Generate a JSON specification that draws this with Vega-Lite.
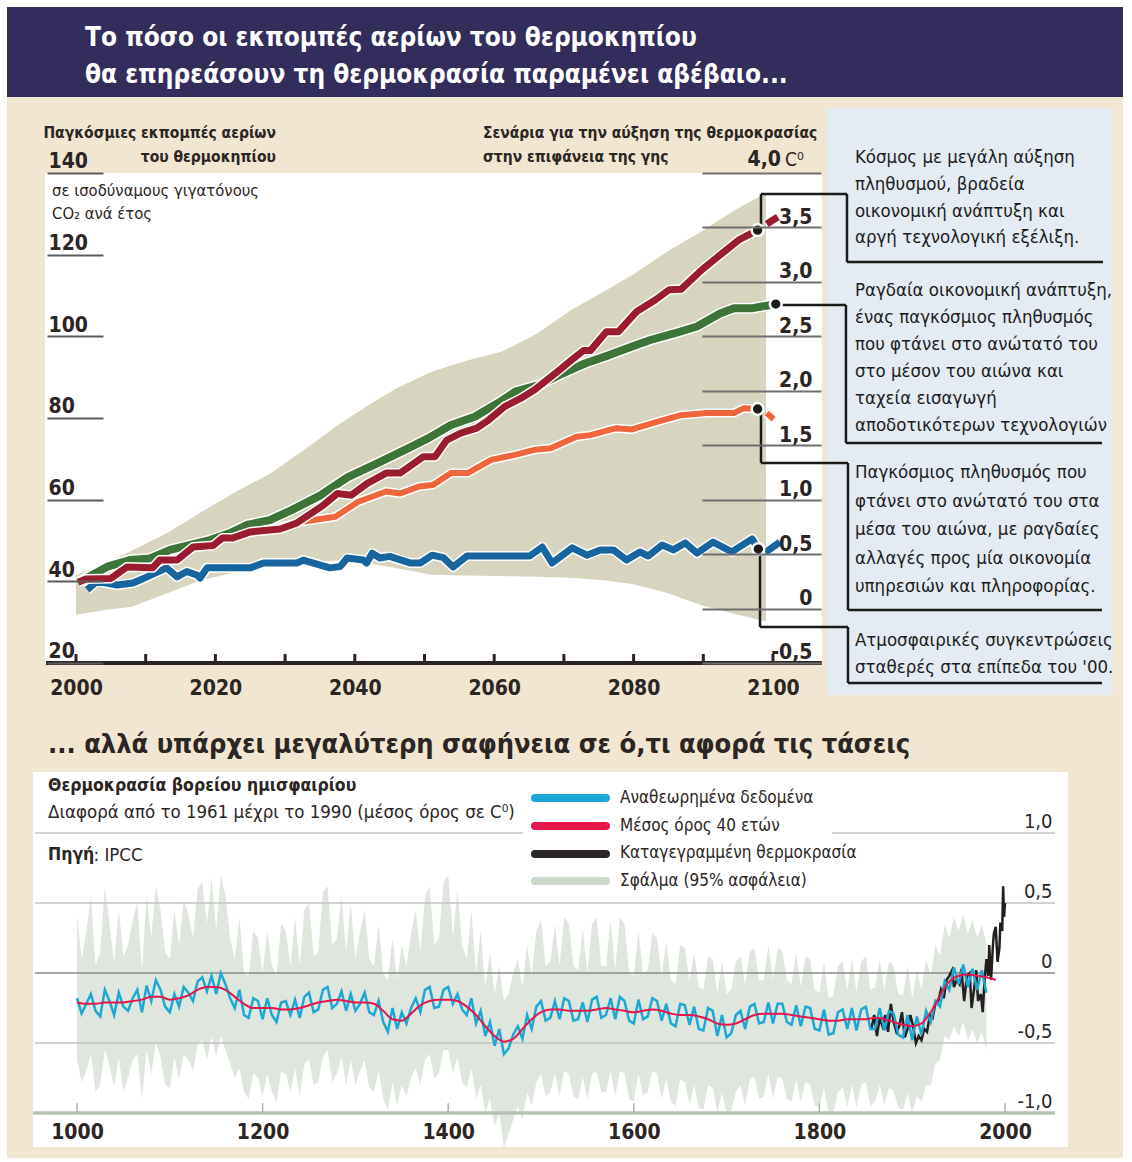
{
"$schema": "https://vega.github.io/schema/vega-lite/v6.json",
"background": "#ffffff",
"padding": {"left": 7, "top": 7, "right": 9, "bottom": 4},
"spacing": 0,
"config": {"view": {"stroke": null}, "font": "DejaVu Sans Condensed, DejaVu Sans, sans-serif", "concat": {"spacing": 0}},
"datasets": {
"series": [
{"scenario":"C","seg":"C1","year":2001.6,"value":37.9},{"scenario":"C","seg":"C1","year":2003,"value":40},{"scenario":"C","seg":"C1","year":2005.9,"value":39.1},{"scenario":"C","seg":"C1","year":2008.2,"value":39.6},{"scenario":"C","seg":"C1","year":2010.2,"value":41.1},{"scenario":"C","seg":"C1","year":2013,"value":43.3},{"scenario":"C","seg":"C1","year":2014.5,"value":41.1},{"scenario":"C","seg":"C1","year":2015.9,"value":42.4},{"scenario":"C","seg":"C1","year":2017.4,"value":41.5},{"scenario":"C","seg":"C1","year":2017.8,"value":40.8},{"scenario":"C","seg":"C1","year":2018.8,"value":43.3},{"scenario":"C","seg":"C1","year":2025,"value":43.3},{"scenario":"C","seg":"C1","year":2026.9,"value":44.5},{"scenario":"C","seg":"C1","year":2031.7,"value":44.5},{"scenario":"C","seg":"C1","year":2032.6,"value":45.2},{"scenario":"C","seg":"C1","year":2036.4,"value":43.3},{"scenario":"C","seg":"C1","year":2037.9,"value":43.6},{"scenario":"C","seg":"C1","year":2038.9,"value":45.7},{"scenario":"C","seg":"C1","year":2041.2,"value":45.2},{"scenario":"C","seg":"C1","year":2041.7,"value":44.5},{"scenario":"C","seg":"C1","year":2042.5,"value":46.9},{"scenario":"C","seg":"C1","year":2043.6,"value":45.7},{"scenario":"C","seg":"C1","year":2045,"value":46.1},{"scenario":"C","seg":"C1","year":2047.9,"value":44.5},{"scenario":"C","seg":"C1","year":2049.4,"value":44.5},{"scenario":"C","seg":"C1","year":2051.1,"value":46.4},{"scenario":"C","seg":"C1","year":2052.7,"value":45.8},{"scenario":"C","seg":"C1","year":2054.1,"value":43.5},{"scenario":"C","seg":"C1","year":2056.1,"value":46.2},{"scenario":"C","seg":"C1","year":2065.1,"value":46.2},{"scenario":"C","seg":"C1","year":2066.9,"value":48.4},{"scenario":"C","seg":"C1","year":2068.3,"value":44.5},{"scenario":"C","seg":"C1","year":2071.2,"value":48.2},{"scenario":"C","seg":"C1","year":2073.3,"value":46.4},{"scenario":"C","seg":"C1","year":2075.2,"value":47.7},{"scenario":"C","seg":"C1","year":2077.1,"value":47.7},{"scenario":"C","seg":"C1","year":2079,"value":45.2},{"scenario":"C","seg":"C1","year":2080.9,"value":47.2},{"scenario":"C","seg":"C1","year":2082.1,"value":46.2},{"scenario":"C","seg":"C1","year":2084.1,"value":48.9},{"scenario":"C","seg":"C1","year":2085.7,"value":47.7},{"scenario":"C","seg":"C1","year":2087.4,"value":49.4},{"scenario":"C","seg":"C1","year":2089.1,"value":46.9},{"scenario":"C","seg":"C1","year":2091.4,"value":49.6},{"scenario":"C","seg":"C1","year":2094.1,"value":47.2},{"scenario":"C","seg":"C1","year":2097,"value":50.4},{"scenario":"C","seg":"C1","year":2097.8,"value":48.2},
{"scenario":"C","seg":"C2","year":2098.9,"value":47.1},{"scenario":"C","seg":"C2","year":2101,"value":49.6},
{"scenario":"B1","seg":"B11","year":2028,"value":52.8},{"scenario":"B1","seg":"B11","year":2032.5,"value":54.6},{"scenario":"B1","seg":"B11","year":2037.2,"value":55.8},{"scenario":"B1","seg":"B11","year":2040.5,"value":59.5},{"scenario":"B1","seg":"B11","year":2044.5,"value":62},{"scenario":"B1","seg":"B11","year":2046.5,"value":61.5},{"scenario":"B1","seg":"B11","year":2049.2,"value":63.2},{"scenario":"B1","seg":"B11","year":2051.2,"value":63.6},{"scenario":"B1","seg":"B11","year":2053.8,"value":66.5},{"scenario":"B1","seg":"B11","year":2056.2,"value":66.5},{"scenario":"B1","seg":"B11","year":2059.5,"value":69.7},{"scenario":"B1","seg":"B11","year":2062.8,"value":70.9},{"scenario":"B1","seg":"B11","year":2065.8,"value":72.2},{"scenario":"B1","seg":"B11","year":2068.1,"value":72.6},{"scenario":"B1","seg":"B11","year":2071.8,"value":75.4},{"scenario":"B1","seg":"B11","year":2073.8,"value":75.8},{"scenario":"B1","seg":"B11","year":2077.5,"value":77.5},{"scenario":"B1","seg":"B11","year":2079.8,"value":77.2},{"scenario":"B1","seg":"B11","year":2083.1,"value":78.9},{"scenario":"B1","seg":"B11","year":2086.8,"value":80.7},{"scenario":"B1","seg":"B11","year":2090.5,"value":81.2},{"scenario":"B1","seg":"B11","year":2094.4,"value":81.2},{"scenario":"B1","seg":"B11","year":2095.8,"value":82.4},{"scenario":"B1","seg":"B11","year":2097.8,"value":82.2},
{"scenario":"B1","seg":"B12","year":2099.1,"value":81.2},{"scenario":"B1","seg":"B12","year":2100.1,"value":79.7},
{"scenario":"A1B","seg":"A1B1","year":2000.5,"value":40},{"scenario":"A1B","seg":"A1B1","year":2001,"value":40.3},{"scenario":"A1B","seg":"A1B1","year":2004.5,"value":43.6},{"scenario":"A1B","seg":"A1B1","year":2007.7,"value":45.2},{"scenario":"A1B","seg":"A1B1","year":2010.6,"value":45.6},{"scenario":"A1B","seg":"A1B1","year":2013.5,"value":47.7},{"scenario":"A1B","seg":"A1B1","year":2016.4,"value":48.9},{"scenario":"A1B","seg":"A1B1","year":2019.2,"value":50.1},{"scenario":"A1B","seg":"A1B1","year":2022.1,"value":51.8},{"scenario":"A1B","seg":"A1B1","year":2024.5,"value":53.8},{"scenario":"A1B","seg":"A1B1","year":2027.8,"value":55},{"scenario":"A1B","seg":"A1B1","year":2031,"value":57.5},{"scenario":"A1B","seg":"A1B1","year":2035,"value":61},{"scenario":"A1B","seg":"A1B1","year":2039,"value":65.5},{"scenario":"A1B","seg":"A1B1","year":2043.2,"value":68.9},{"scenario":"A1B","seg":"A1B1","year":2047.2,"value":72.2},{"scenario":"A1B","seg":"A1B1","year":2050.5,"value":75},{"scenario":"A1B","seg":"A1B1","year":2053.8,"value":78.3},{"scenario":"A1B","seg":"A1B1","year":2057.2,"value":80.3},{"scenario":"A1B","seg":"A1B1","year":2060.5,"value":83.6},{"scenario":"A1B","seg":"A1B1","year":2063.1,"value":86.5},{"scenario":"A1B","seg":"A1B1","year":2066.5,"value":88.1},{"scenario":"A1B","seg":"A1B1","year":2069.8,"value":90.9},{"scenario":"A1B","seg":"A1B1","year":2073.1,"value":93.4},{"scenario":"A1B","seg":"A1B1","year":2076.5,"value":95.4},{"scenario":"A1B","seg":"A1B1","year":2079.8,"value":97.5},{"scenario":"A1B","seg":"A1B1","year":2082.4,"value":99.1},{"scenario":"A1B","seg":"A1B1","year":2085.8,"value":100.7},{"scenario":"A1B","seg":"A1B1","year":2089.1,"value":102.4},{"scenario":"A1B","seg":"A1B1","year":2092.4,"value":105.6},{"scenario":"A1B","seg":"A1B1","year":2094.4,"value":106.9},{"scenario":"A1B","seg":"A1B1","year":2097.1,"value":106.9},{"scenario":"A1B","seg":"A1B1","year":2100.4,"value":107.9},
{"scenario":"A2","seg":"A21","year":2000.3,"value":39.8},{"scenario":"A2","seg":"A21","year":2001.5,"value":40.6},{"scenario":"A2","seg":"A21","year":2005,"value":40.7},{"scenario":"A2","seg":"A21","year":2007.3,"value":43.5},{"scenario":"A2","seg":"A21","year":2011,"value":43.3},{"scenario":"A2","seg":"A21","year":2012,"value":45.2},{"scenario":"A2","seg":"A21","year":2014.5,"value":45.2},{"scenario":"A2","seg":"A21","year":2016.8,"value":48.4},{"scenario":"A2","seg":"A21","year":2019.7,"value":48.8},{"scenario":"A2","seg":"A21","year":2021,"value":50.6},{"scenario":"A2","seg":"A21","year":2022.5,"value":50.6},{"scenario":"A2","seg":"A21","year":2025,"value":52.1},{"scenario":"A2","seg":"A21","year":2029.3,"value":52.8},{"scenario":"A2","seg":"A21","year":2031.7,"value":54.3},{"scenario":"A2","seg":"A21","year":2035.3,"value":58.4},{"scenario":"A2","seg":"A21","year":2037.5,"value":61.5},{"scenario":"A2","seg":"A21","year":2039.5,"value":61.1},{"scenario":"A2","seg":"A21","year":2041.8,"value":64},{"scenario":"A2","seg":"A21","year":2044.5,"value":66.5},{"scenario":"A2","seg":"A21","year":2046.5,"value":66.5},{"scenario":"A2","seg":"A21","year":2049.8,"value":70.5},{"scenario":"A2","seg":"A21","year":2051.5,"value":70.5},{"scenario":"A2","seg":"A21","year":2053.2,"value":74.6},{"scenario":"A2","seg":"A21","year":2055.2,"value":76.3},{"scenario":"A2","seg":"A21","year":2057.5,"value":77.5},{"scenario":"A2","seg":"A21","year":2059.2,"value":79.5},{"scenario":"A2","seg":"A21","year":2061.5,"value":82.8},{"scenario":"A2","seg":"A21","year":2063.8,"value":84.8},{"scenario":"A2","seg":"A21","year":2065.8,"value":86.9},{"scenario":"A2","seg":"A21","year":2069.1,"value":91.4},{"scenario":"A2","seg":"A21","year":2071.1,"value":94.2},{"scenario":"A2","seg":"A21","year":2072.8,"value":96.5},{"scenario":"A2","seg":"A21","year":2073.8,"value":96.5},{"scenario":"A2","seg":"A21","year":2076.1,"value":101.1},{"scenario":"A2","seg":"A21","year":2077.8,"value":101.1},{"scenario":"A2","seg":"A21","year":2080.4,"value":106},{"scenario":"A2","seg":"A21","year":2083.1,"value":108.9},{"scenario":"A2","seg":"A21","year":2085.1,"value":111.4},{"scenario":"A2","seg":"A21","year":2086.8,"value":111.5},{"scenario":"A2","seg":"A21","year":2089.8,"value":116.3},{"scenario":"A2","seg":"A21","year":2092.4,"value":119.9},{"scenario":"A2","seg":"A21","year":2095.1,"value":123.6},{"scenario":"A2","seg":"A21","year":2097.8,"value":126},
{"scenario":"A2","seg":"A22","year":2099.1,"value":127.5},{"scenario":"A2","seg":"A22","year":2100.7,"value":129.2}
],
"dots": [{"scenario":"A2","year":2097.8,"value":126},{"scenario":"A1B","year":2100.4,"value":107.9},{"scenario":"B1","year":2097.8,"value":82.2},{"scenario":"C","year":2097.9,"value":47.9}],
"band": [
{"year":2000,"lo":31.8,"hi":41.5},{"year":2004,"lo":32.9,"hi":44.3},{"year":2008,"lo":33.8,"hi":47.5},{"year":2013,"lo":37,"hi":51.8},{"year":2018,"lo":40.3,"hi":57},{"year":2023,"lo":42.2,"hi":62},{"year":2028,"lo":43.6,"hi":66.5},{"year":2033,"lo":44.5,"hi":72.5},{"year":2038,"lo":45.2,"hi":78.8},{"year":2042,"lo":44.4,"hi":83.2},{"year":2046,"lo":43.2,"hi":87.3},{"year":2051,"lo":41.6,"hi":91.3},{"year":2056,"lo":41.4,"hi":94},{"year":2061,"lo":41.3,"hi":96.2},{"year":2066,"lo":41.1,"hi":100.5},{"year":2071,"lo":40.9,"hi":106.4},{"year":2076,"lo":40.2,"hi":111.2},{"year":2080,"lo":39.3,"hi":115.2},{"year":2084.5,"lo":37.3,"hi":120.4},{"year":2090,"lo":34,"hi":126},{"year":2094.5,"lo":32,"hi":130.9},{"year":2099,"lo":30.2,"hi":135.1}
],
"xticks": [{"year":2000},{"year":2010},{"year":2020},{"year":2030},{"year":2040},{"year":2050},{"year":2060},{"year":2070},{"year":2080},{"year":2090},{"year":2100}],
"recon": [
{"year":1000,"temp":-0.18,"lo":-0.62,"hi":0.42},{"year":1005,"temp":-0.29,"lo":-0.78,"hi":0.1},{"year":1010,"temp":-0.22,"lo":-0.7,"hi":0.3},{"year":1015,"temp":-0.15,"lo":-0.58,"hi":0.55},{"year":1020,"temp":-0.27,"lo":-0.85,"hi":0.05},{"year":1025,"temp":-0.31,"lo":-0.8,"hi":0.15},{"year":1030,"temp":-0.12,"lo":-0.55,"hi":0.62},{"year":1035,"temp":-0.2,"lo":-0.66,"hi":0.35},{"year":1040,"temp":-0.3,"lo":-0.82,"hi":0.08},{"year":1045,"temp":-0.14,"lo":-0.6,"hi":0.45},
{"year":1050,"temp":-0.24,"lo":-0.85,"hi":0.12},{"year":1055,"temp":-0.27,"lo":-0.75,"hi":0.2},{"year":1060,"temp":-0.18,"lo":-0.62,"hi":0.38},{"year":1065,"temp":-0.12,"lo":-0.58,"hi":0.5},{"year":1070,"temp":-0.28,"lo":-0.9,"hi":0.02},{"year":1075,"temp":-0.09,"lo":-0.55,"hi":0.55},{"year":1080,"temp":-0.2,"lo":-0.72,"hi":0.25},{"year":1085,"temp":-0.05,"lo":-0.5,"hi":0.62},{"year":1090,"temp":-0.12,"lo":-0.6,"hi":0.45},{"year":1095,"temp":-0.24,"lo":-0.8,"hi":0.15},
{"year":1100,"temp":-0.28,"lo":-0.82,"hi":0.1},{"year":1105,"temp":-0.15,"lo":-0.6,"hi":0.45},{"year":1110,"temp":-0.24,"lo":-0.76,"hi":0.2},{"year":1115,"temp":-0.1,"lo":-0.58,"hi":0.52},{"year":1120,"temp":-0.14,"lo":-0.62,"hi":0.42},{"year":1125,"temp":-0.2,"lo":-0.7,"hi":0.25},{"year":1130,"temp":-0.06,"lo":-0.52,"hi":0.6},{"year":1135,"temp":-0.03,"lo":-0.48,"hi":0.65},{"year":1140,"temp":-0.13,"lo":-0.62,"hi":0.35},{"year":1145,"temp":-0.02,"lo":-0.45,"hi":0.68},
{"year":1150,"temp":-0.15,"lo":-0.6,"hi":0.3},{"year":1155,"temp":0.0,"lo":-0.45,"hi":0.7},{"year":1160,"temp":-0.08,"lo":-0.55,"hi":0.55},{"year":1165,"temp":-0.18,"lo":-0.65,"hi":0.25},{"year":1170,"temp":-0.25,"lo":-0.75,"hi":0.1},{"year":1175,"temp":-0.12,"lo":-0.68,"hi":0.4},{"year":1180,"temp":-0.3,"lo":-0.85,"hi":0.0},{"year":1185,"temp":-0.32,"lo":-0.9,"hi":-0.02},{"year":1190,"temp":-0.18,"lo":-0.72,"hi":0.3},{"year":1195,"temp":-0.2,"lo":-0.75,"hi":0.25},
{"year":1200,"temp":-0.33,"lo":-0.88,"hi":0.0},{"year":1205,"temp":-0.18,"lo":-0.72,"hi":0.3},{"year":1210,"temp":-0.3,"lo":-0.85,"hi":0.05},{"year":1215,"temp":-0.35,"lo":-0.92,"hi":-0.02},{"year":1220,"temp":-0.21,"lo":-0.7,"hi":0.35},{"year":1225,"temp":-0.2,"lo":-0.72,"hi":0.3},{"year":1230,"temp":-0.3,"lo":-0.85,"hi":0.05},{"year":1235,"temp":-0.19,"lo":-0.68,"hi":0.4},{"year":1240,"temp":-0.32,"lo":-0.88,"hi":0.05},{"year":1245,"temp":-0.17,"lo":-0.65,"hi":0.45},
{"year":1250,"temp":-0.14,"lo":-0.62,"hi":0.5},{"year":1255,"temp":-0.28,"lo":-0.8,"hi":0.12},{"year":1260,"temp":-0.26,"lo":-0.78,"hi":0.15},{"year":1265,"temp":-0.12,"lo":-0.6,"hi":0.58},{"year":1270,"temp":-0.1,"lo":-0.55,"hi":0.62},{"year":1275,"temp":-0.25,"lo":-0.78,"hi":0.2},{"year":1280,"temp":-0.22,"lo":-0.72,"hi":0.25},{"year":1285,"temp":-0.13,"lo":-0.6,"hi":0.55},{"year":1290,"temp":-0.27,"lo":-0.8,"hi":0.15},{"year":1295,"temp":-0.15,"lo":-0.62,"hi":0.5},
{"year":1300,"temp":-0.27,"lo":-0.8,"hi":0.1},{"year":1305,"temp":-0.22,"lo":-0.7,"hi":0.3},{"year":1310,"temp":-0.14,"lo":-0.62,"hi":0.45},{"year":1315,"temp":-0.28,"lo":-0.82,"hi":0.1},{"year":1320,"temp":-0.3,"lo":-0.85,"hi":0.05},{"year":1325,"temp":-0.2,"lo":-0.7,"hi":0.35},{"year":1330,"temp":-0.35,"lo":-0.9,"hi":0.0},{"year":1335,"temp":-0.42,"lo":-0.98,"hi":-0.05},{"year":1340,"temp":-0.25,"lo":-0.78,"hi":0.25},{"year":1345,"temp":-0.4,"lo":-0.95,"hi":-0.05},
{"year":1350,"temp":-0.28,"lo":-0.8,"hi":0.2},{"year":1355,"temp":-0.36,"lo":-0.88,"hi":0.05},{"year":1360,"temp":-0.25,"lo":-0.75,"hi":0.28},{"year":1365,"temp":-0.18,"lo":-0.68,"hi":0.45},{"year":1370,"temp":-0.28,"lo":-0.8,"hi":0.15},{"year":1375,"temp":-0.12,"lo":-0.62,"hi":0.55},{"year":1380,"temp":-0.1,"lo":-0.58,"hi":0.62},{"year":1385,"temp":-0.25,"lo":-0.75,"hi":0.2},{"year":1390,"temp":-0.24,"lo":-0.72,"hi":0.25},{"year":1395,"temp":-0.12,"lo":-0.55,"hi":0.65},
{"year":1400,"temp":-0.1,"lo":-0.55,"hi":0.7},{"year":1405,"temp":-0.22,"lo":-0.72,"hi":0.25},{"year":1410,"temp":-0.15,"lo":-0.6,"hi":0.6},{"year":1415,"temp":-0.26,"lo":-0.78,"hi":0.2},{"year":1420,"temp":-0.3,"lo":-0.82,"hi":0.1},{"year":1425,"temp":-0.18,"lo":-0.68,"hi":0.45},{"year":1430,"temp":-0.36,"lo":-0.9,"hi":0.0},{"year":1435,"temp":-0.27,"lo":-0.8,"hi":0.3},{"year":1440,"temp":-0.45,"lo":-1.0,"hi":-0.1},{"year":1445,"temp":-0.35,"lo":-0.9,"hi":0.15},
{"year":1450,"temp":-0.52,"lo":-1.1,"hi":-0.15},{"year":1455,"temp":-0.4,"lo":-1.0,"hi":0.05},{"year":1460,"temp":-0.58,"lo":-1.25,"hi":-0.2},{"year":1465,"temp":-0.54,"lo":-1.15,"hi":-0.15},{"year":1470,"temp":-0.44,"lo":-1.05,"hi":0.0},{"year":1475,"temp":-0.38,"lo":-0.95,"hi":0.1},{"year":1480,"temp":-0.47,"lo":-1.05,"hi":-0.1},{"year":1485,"temp":-0.3,"lo":-0.85,"hi":0.2},{"year":1490,"temp":-0.4,"lo":-0.95,"hi":-0.02},{"year":1495,"temp":-0.24,"lo":-0.78,"hi":0.3},
{"year":1500,"temp":-0.2,"lo":-0.72,"hi":0.38},{"year":1505,"temp":-0.34,"lo":-0.88,"hi":0.05},{"year":1510,"temp":-0.32,"lo":-0.85,"hi":0.08},{"year":1515,"temp":-0.2,"lo":-0.72,"hi":0.35},{"year":1520,"temp":-0.33,"lo":-0.88,"hi":0.05},{"year":1525,"temp":-0.18,"lo":-0.7,"hi":0.4},{"year":1530,"temp":-0.2,"lo":-0.72,"hi":0.35},{"year":1535,"temp":-0.34,"lo":-0.88,"hi":0.05},{"year":1540,"temp":-0.33,"lo":-0.9,"hi":0.02},{"year":1545,"temp":-0.21,"lo":-0.74,"hi":0.32},
{"year":1550,"temp":-0.35,"lo":-0.9,"hi":0.0},{"year":1555,"temp":-0.19,"lo":-0.72,"hi":0.35},{"year":1560,"temp":-0.17,"lo":-0.7,"hi":0.4},{"year":1565,"temp":-0.32,"lo":-0.85,"hi":0.05},{"year":1570,"temp":-0.3,"lo":-0.85,"hi":0.05},{"year":1575,"temp":-0.18,"lo":-0.7,"hi":0.38},{"year":1580,"temp":-0.33,"lo":-0.88,"hi":0.02},{"year":1585,"temp":-0.17,"lo":-0.7,"hi":0.4},{"year":1590,"temp":-0.2,"lo":-0.72,"hi":0.35},{"year":1595,"temp":-0.34,"lo":-0.9,"hi":0.0},
{"year":1600,"temp":-0.36,"lo":-0.92,"hi":-0.02},{"year":1605,"temp":-0.19,"lo":-0.72,"hi":0.3},{"year":1610,"temp":-0.33,"lo":-0.88,"hi":0.0},{"year":1615,"temp":-0.31,"lo":-0.85,"hi":0.02},{"year":1620,"temp":-0.18,"lo":-0.7,"hi":0.28},{"year":1625,"temp":-0.2,"lo":-0.72,"hi":0.25},{"year":1630,"temp":-0.34,"lo":-0.9,"hi":-0.02},{"year":1635,"temp":-0.22,"lo":-0.75,"hi":0.22},{"year":1640,"temp":-0.36,"lo":-0.92,"hi":-0.05},{"year":1645,"temp":-0.38,"lo":-0.95,"hi":-0.08},
{"year":1650,"temp":-0.22,"lo":-0.76,"hi":0.2},{"year":1655,"temp":-0.23,"lo":-0.78,"hi":0.18},{"year":1660,"temp":-0.37,"lo":-0.94,"hi":-0.06},{"year":1665,"temp":-0.24,"lo":-0.8,"hi":0.15},{"year":1670,"temp":-0.4,"lo":-0.96,"hi":-0.1},{"year":1675,"temp":-0.41,"lo":-0.98,"hi":-0.12},{"year":1680,"temp":-0.25,"lo":-0.8,"hi":0.12},{"year":1685,"temp":-0.27,"lo":-0.82,"hi":0.1},{"year":1690,"temp":-0.45,"lo":-1.0,"hi":-0.15},{"year":1695,"temp":-0.3,"lo":-0.85,"hi":0.08},
{"year":1700,"temp":-0.46,"lo":-1.0,"hi":-0.15},{"year":1705,"temp":-0.43,"lo":-0.98,"hi":-0.12},{"year":1710,"temp":-0.3,"lo":-0.85,"hi":0.08},{"year":1715,"temp":-0.27,"lo":-0.8,"hi":0.12},{"year":1720,"temp":-0.4,"lo":-0.95,"hi":-0.08},{"year":1725,"temp":-0.24,"lo":-0.76,"hi":0.15},{"year":1730,"temp":-0.22,"lo":-0.74,"hi":0.18},{"year":1735,"temp":-0.36,"lo":-0.9,"hi":-0.05},{"year":1740,"temp":-0.35,"lo":-0.88,"hi":-0.05},{"year":1745,"temp":-0.21,"lo":-0.72,"hi":0.2},
{"year":1750,"temp":-0.36,"lo":-0.9,"hi":-0.05},{"year":1755,"temp":-0.22,"lo":-0.74,"hi":0.18},{"year":1760,"temp":-0.22,"lo":-0.75,"hi":0.16},{"year":1765,"temp":-0.35,"lo":-0.9,"hi":-0.05},{"year":1770,"temp":-0.37,"lo":-0.92,"hi":-0.08},{"year":1775,"temp":-0.23,"lo":-0.76,"hi":0.15},{"year":1780,"temp":-0.38,"lo":-0.92,"hi":-0.1},{"year":1785,"temp":-0.24,"lo":-0.78,"hi":0.12},{"year":1790,"temp":-0.25,"lo":-0.8,"hi":0.1},{"year":1795,"temp":-0.4,"lo":-0.95,"hi":-0.12},
{"year":1800,"temp":-0.41,"lo":-0.96,"hi":-0.14},{"year":1805,"temp":-0.26,"lo":-0.82,"hi":0.08},{"year":1810,"temp":-0.44,"lo":-1.0,"hi":-0.18},{"year":1815,"temp":-0.43,"lo":-1.0,"hi":-0.16},{"year":1820,"temp":-0.28,"lo":-0.85,"hi":0.05},{"year":1825,"temp":-0.26,"lo":-0.82,"hi":0.08},{"year":1830,"temp":-0.4,"lo":-0.96,"hi":-0.12},{"year":1835,"temp":-0.25,"lo":-0.8,"hi":0.1},{"year":1840,"temp":-0.41,"lo":-0.96,"hi":-0.14},{"year":1845,"temp":-0.26,"lo":-0.8,"hi":0.08},
{"year":1850,"temp":-0.24,"lo":-0.78,"hi":0.12},{"year":1855,"temp":-0.4,"lo":-0.95,"hi":-0.12},{"year":1860,"temp":-0.4,"lo":-0.92,"hi":-0.1},{"year":1865,"temp":-0.25,"lo":-0.8,"hi":0.1},{"year":1870,"temp":-0.41,"lo":-0.94,"hi":-0.12},{"year":1875,"temp":-0.27,"lo":-0.82,"hi":0.08},{"year":1880,"temp":-0.29,"lo":-0.84,"hi":0.05},{"year":1885,"temp":-0.44,"lo":-0.96,"hi":-0.15},{"year":1890,"temp":-0.46,"lo":-0.98,"hi":-0.16},{"year":1895,"temp":-0.3,"lo":-0.86,"hi":0.05},
{"year":1900,"temp":-0.48,"lo":-1.0,"hi":-0.18},{"year":1905,"temp":-0.31,"lo":-0.88,"hi":0.02},{"year":1910,"temp":-0.44,"lo":-0.92,"hi":-0.12},{"year":1915,"temp":-0.27,"lo":-0.8,"hi":0.1},{"year":1920,"temp":-0.35,"lo":-0.8,"hi":-0.02},{"year":1925,"temp":-0.2,"lo":-0.65,"hi":0.2},{"year":1930,"temp":-0.24,"lo":-0.62,"hi":0.12},{"year":1935,"temp":-0.06,"lo":-0.45,"hi":0.35},{"year":1940,"temp":-0.12,"lo":-0.48,"hi":0.25},{"year":1945,"temp":0.04,"lo":-0.38,"hi":0.4},
{"year":1950,"temp":-0.08,"lo":-0.45,"hi":0.3},{"year":1955,"temp":0.06,"lo":-0.35,"hi":0.42},{"year":1960,"temp":-0.1,"lo":-0.48,"hi":0.28},{"year":1965,"temp":0.03,"lo":-0.4,"hi":0.38},{"year":1970,"temp":-0.12,"lo":-0.5,"hi":0.25},{"year":1975,"temp":0.02,"lo":-0.42,"hi":0.35},{"year":1980,"temp":-0.14,"lo":-0.55,"hi":0.2}
],
"mean": [
{"year":1000,"m":-0.21},{"year":1010,"m":-0.22},{"year":1020,"m":-0.22},{"year":1030,"m":-0.21},{"year":1040,"m":-0.21},{"year":1050,"m":-0.21},{"year":1060,"m":-0.2},{"year":1070,"m":-0.19},{"year":1080,"m":-0.17},{"year":1090,"m":-0.17},{"year":1100,"m":-0.19},{"year":1110,"m":-0.18},{"year":1120,"m":-0.16},{"year":1130,"m":-0.12},{"year":1140,"m":-0.1},{"year":1150,"m":-0.1},{"year":1160,"m":-0.12},{"year":1170,"m":-0.17},{"year":1180,"m":-0.22},{"year":1190,"m":-0.25},{"year":1200,"m":-0.25},{"year":1210,"m":-0.25},{"year":1220,"m":-0.26},{"year":1230,"m":-0.26},{"year":1240,"m":-0.25},{"year":1250,"m":-0.23},{"year":1260,"m":-0.21},{"year":1270,"m":-0.2},{"year":1280,"m":-0.19},{"year":1290,"m":-0.2},{"year":1300,"m":-0.21},{"year":1310,"m":-0.21},{"year":1320,"m":-0.22},{"year":1330,"m":-0.27},{"year":1340,"m":-0.33},{"year":1350,"m":-0.34},{"year":1360,"m":-0.29},{"year":1370,"m":-0.23},{"year":1380,"m":-0.2},{"year":1390,"m":-0.19},{"year":1400,"m":-0.19},{"year":1410,"m":-0.2},{"year":1420,"m":-0.24},{"year":1430,"m":-0.3},{"year":1440,"m":-0.38},{"year":1450,"m":-0.45},{"year":1460,"m":-0.49},{"year":1470,"m":-0.47},{"year":1480,"m":-0.4},{"year":1490,"m":-0.33},{"year":1500,"m":-0.28},{"year":1510,"m":-0.26},{"year":1520,"m":-0.26},{"year":1530,"m":-0.27},{"year":1540,"m":-0.27},{"year":1550,"m":-0.27},{"year":1560,"m":-0.26},{"year":1570,"m":-0.25},{"year":1580,"m":-0.26},{"year":1590,"m":-0.27},{"year":1600,"m":-0.28},{"year":1610,"m":-0.27},{"year":1620,"m":-0.26},{"year":1630,"m":-0.27},{"year":1640,"m":-0.29},{"year":1650,"m":-0.3},{"year":1660,"m":-0.3},{"year":1670,"m":-0.31},{"year":1680,"m":-0.33},{"year":1690,"m":-0.36},{"year":1700,"m":-0.37},{"year":1710,"m":-0.36},{"year":1720,"m":-0.33},{"year":1730,"m":-0.3},{"year":1740,"m":-0.29},{"year":1750,"m":-0.29},{"year":1760,"m":-0.29},{"year":1770,"m":-0.3},{"year":1780,"m":-0.31},{"year":1790,"m":-0.32},{"year":1800,"m":-0.33},{"year":1810,"m":-0.34},{"year":1820,"m":-0.34},{"year":1830,"m":-0.33},{"year":1840,"m":-0.33},{"year":1850,"m":-0.33},{"year":1860,"m":-0.32},{"year":1870,"m":-0.33},{"year":1880,"m":-0.35},{"year":1890,"m":-0.37},{"year":1900,"m":-0.38},{"year":1910,"m":-0.36},{"year":1920,"m":-0.28},{"year":1930,"m":-0.16},{"year":1940,"m":-0.06},{"year":1950,"m":-0.02},{"year":1960,"m":-0.01},{"year":1970,"m":-0.02},{"year":1980,"m":-0.03},{"year":1990,"m":-0.05}
],
"inst": [
{"year":1856,"t":-0.4},{"year":1859,"t":-0.3},{"year":1862,"t":-0.45},{"year":1865,"t":-0.32},{"year":1868,"t":-0.38},{"year":1871,"t":-0.3},{"year":1874,"t":-0.42},{"year":1877,"t":-0.22},{"year":1880,"t":-0.35},{"year":1883,"t":-0.42},{"year":1886,"t":-0.38},{"year":1889,"t":-0.28},{"year":1892,"t":-0.46},{"year":1895,"t":-0.4},{"year":1898,"t":-0.3},{"year":1901,"t":-0.38},{"year":1904,"t":-0.5},{"year":1907,"t":-0.45},{"year":1910,"t":-0.48},{"year":1913,"t":-0.4},{"year":1916,"t":-0.42},{"year":1919,"t":-0.3},{"year":1922,"t":-0.32},{"year":1925,"t":-0.22},{"year":1928,"t":-0.2},{"year":1931,"t":-0.12},{"year":1934,"t":-0.18},{"year":1937,"t":-0.05},{"year":1940,"t":-0.02},{"year":1943,"t":0.02},{"year":1945,"t":-0.1},{"year":1948,"t":-0.05},{"year":1951,"t":-0.08},{"year":1953,"t":0.03},{"year":1956,"t":-0.2},{"year":1959,"t":-0.02},{"year":1962,"t":0.0},{"year":1964,"t":-0.25},{"year":1967,"t":-0.1},{"year":1969,"t":0.02},{"year":1971,"t":-0.2},{"year":1974,"t":-0.15},{"year":1976,"t":-0.28},{"year":1978,"t":-0.05},{"year":1980,"t":0.1},{"year":1982,"t":-0.02},{"year":1983,"t":0.2},{"year":1985,"t":-0.05},{"year":1987,"t":0.2},{"year":1988,"t":0.28},{"year":1990,"t":0.33},{"year":1992,"t":0.08},{"year":1994,"t":0.18},{"year":1995,"t":0.36},{"year":1997,"t":0.3},{"year":1998,"t":0.62},{"year":1999,"t":0.4},{"year":2000,"t":0.5}
],
"cticks": [{"year":1000},{"year":1200},{"year":1400},{"year":1600},{"year":1800},{"year":2000}]
},
"vconcat": [
{
"width": 1116, "height": 90,
"view": {"fill": "#332d5c", "stroke": null},
"data": {"values": [{}]},
"mark": {"type": "text", "align": "left", "baseline": "middle", "fontSize": 26, "fontWeight": "bold", "color": "#ffffff", "lineHeight": 37},
"encoding": {
"x": {"datum": 78, "type": "quantitative", "scale": {"domain": [0, 1116], "nice": false, "zero": false}, "axis": null},
"y": {"datum": 31, "type": "quantitative", "scale": {"domain": [90, 0], "nice": false, "zero": false}, "axis": null},
"text": {"value": ["Το πόσο οι εκπομπές αερίων του θερμοκηπίου", "θα επηρεάσουν τη θερμοκρασία παραμένει αβέβαιο..."]}
}
},
{
"width": 1116, "height": 623,
"view": {"fill": "#f0e6d1", "stroke": null},
"resolve": {"scale": {"y": "independent"}},
"layer": [
{"layer": [
{"data": {"values": [{}]}, "mark": {"type": "rect", "fill": "#ffffff"},
 "encoding": {
  "x": {"datum": 1995.55, "type": "quantitative", "scale": {"domain": [1990.1, 2150.22], "nice": false, "zero": false},
   "axis": {"orient": "bottom", "offset": -57, "values": [2000, 2020, 2040, 2060, 2080, 2100], "format": "d", "ticks": false, "domain": false, "grid": false, "labelPadding": 25, "labelBaseline": "middle", "labelFontSize": 21, "labelFontWeight": "bold", "labelColor": "#2b2523", "labelFlush": false, "labelOverlap": false, "title": null, "zindex": 2}},
  "x2": {"datum": 2107.0},
  "y": {"datum": 20, "type": "quantitative", "scale": {"domain": [6.04, 158.61], "nice": false, "zero": false},
   "axis": {"orient": "left", "offset": -96, "values": [20, 40, 60, 80, 100, 120, 140], "ticks": true, "tickSize": 56, "tickWidth": 2, "tickColor": "#5c5c5c", "domain": false, "grid": false, "labelAlign": "left", "labelPadding": -1, "labelBaseline": "alphabetic", "labelOffset": -5, "labelFontSize": 21, "labelFontWeight": "bold", "labelColor": "#2b2523", "labelFlush": false, "labelOverlap": false, "title": null, "zindex": 2}},
  "y2": {"datum": 140}}},
{"data": {"values": [{}]}, "mark": {"type": "rect", "fill": "#e4ebf2"},
 "encoding": {"x": {"datum": 2107.75, "type": "quantitative"}, "x2": {"datum": 2148.8}, "y": {"datum": 155.92, "type": "quantitative"}, "y2": {"datum": 12.16}}},
{"data": {"name": "band"}, "mark": {"type": "area", "color": "#d7d4bf"},
 "encoding": {"x": {"field": "year", "type": "quantitative"}, "y": {"field": "hi", "type": "quantitative"}, "y2": {"field": "lo"}}},
{"data": {"name": "series"}, "transform": [{"filter": "datum.scenario == 'C'"}],
 "encoding": {"x": {"field": "year", "type": "quantitative"}, "y": {"field": "value", "type": "quantitative"}, "detail": {"field": "seg"}},
 "layer": [
  {"mark": {"type": "line", "stroke": "#ffffff", "strokeWidth": 10, "strokeJoin": "round"}},
  {"mark": {"type": "line", "stroke": "#17659e", "strokeWidth": 7, "strokeJoin": "round"}}
 ]},
{"data": {"name": "series"}, "transform": [{"filter": "datum.scenario == 'B1'"}],
 "encoding": {"x": {"field": "year", "type": "quantitative"}, "y": {"field": "value", "type": "quantitative"}, "detail": {"field": "seg"}},
 "layer": [
  {"mark": {"type": "line", "stroke": "#ffffff", "strokeWidth": 9, "strokeJoin": "round"}},
  {"mark": {"type": "line", "stroke": "#f0653b", "strokeWidth": 6, "strokeJoin": "round"}}
 ]},
{"data": {"name": "series"}, "transform": [{"filter": "datum.scenario == 'A1B'"}],
 "encoding": {"x": {"field": "year", "type": "quantitative"}, "y": {"field": "value", "type": "quantitative"}, "detail": {"field": "seg"}},
 "layer": [
  {"mark": {"type": "line", "stroke": "#ffffff", "strokeWidth": 11, "strokeJoin": "round"}},
  {"mark": {"type": "line", "stroke": "#3d7439", "strokeWidth": 8, "strokeJoin": "round"}}
 ]},
{"data": {"name": "series"}, "transform": [{"filter": "datum.scenario == 'A2'"}],
 "encoding": {"x": {"field": "year", "type": "quantitative"}, "y": {"field": "value", "type": "quantitative"}, "detail": {"field": "seg"}},
 "layer": [
  {"mark": {"type": "line", "stroke": "#ffffff", "strokeWidth": 10, "strokeJoin": "round"}},
  {"mark": {"type": "line", "stroke": "#9b1c31", "strokeWidth": 7, "strokeJoin": "round"}}
 ]},
{"data": {"values": [{}]}, "mark": {"type": "rule", "stroke": "#2b2523", "strokeWidth": 4},
 "encoding": {"x": {"datum": 1995.7, "type": "quantitative"}, "x2": {"datum": 2107.0}, "y": {"datum": 20, "type": "quantitative"}}},
{"data": {"name": "xticks"}, "mark": {"type": "rule", "stroke": "#2b2523", "strokeWidth": 3},
 "encoding": {"x": {"field": "year", "type": "quantitative"}, "y": {"datum": 20, "type": "quantitative"}, "y2": {"datum": 22.2}}},
{"data": {"values": [{}]}, "mark": {"type": "rule", "stroke": "#1b1b1b", "strokeWidth": 2.5}, "encoding": {"x": {"datum": 2098.28, "type": "quantitative"}, "y": {"datum": 126.0, "type": "quantitative"}, "y2": {"datum": 134.86}}},
{"data": {"values": [{}]}, "mark": {"type": "rule", "stroke": "#1b1b1b", "strokeWidth": 2.5}, "encoding": {"x": {"datum": 2098.28, "type": "quantitative"}, "x2": {"datum": 2110.62}, "y": {"datum": 134.86, "type": "quantitative"}}},
{"data": {"values": [{}]}, "mark": {"type": "rule", "stroke": "#1b1b1b", "strokeWidth": 2.5}, "encoding": {"x": {"datum": 2110.62, "type": "quantitative"}, "y": {"datum": 134.86, "type": "quantitative"}, "y2": {"datum": 118.2}}},
{"data": {"values": [{}]}, "mark": {"type": "rule", "stroke": "#1b1b1b", "strokeWidth": 2.5}, "encoding": {"x": {"datum": 2110.62, "type": "quantitative"}, "x2": {"datum": 2147.35}, "y": {"datum": 118.2, "type": "quantitative"}}},
{"data": {"values": [{}]}, "mark": {"type": "rule", "stroke": "#1b1b1b", "strokeWidth": 2.5}, "encoding": {"x": {"datum": 2100.43, "type": "quantitative"}, "x2": {"datum": 2110.47}, "y": {"datum": 107.67, "type": "quantitative"}}},
{"data": {"values": [{}]}, "mark": {"type": "rule", "stroke": "#1b1b1b", "strokeWidth": 2.5}, "encoding": {"x": {"datum": 2110.47, "type": "quantitative"}, "y": {"datum": 107.67, "type": "quantitative"}, "y2": {"datum": 73.88}}},
{"data": {"values": [{}]}, "mark": {"type": "rule", "stroke": "#1b1b1b", "strokeWidth": 2.5}, "encoding": {"x": {"datum": 2110.47, "type": "quantitative"}, "x2": {"datum": 2147.2}, "y": {"datum": 73.88, "type": "quantitative"}}},
{"data": {"values": [{}]}, "mark": {"type": "rule", "stroke": "#1b1b1b", "strokeWidth": 2.5}, "encoding": {"x": {"datum": 2098.28, "type": "quantitative"}, "y": {"datum": 82.2, "type": "quantitative"}, "y2": {"datum": 68.98}}},
{"data": {"values": [{}]}, "mark": {"type": "rule", "stroke": "#1b1b1b", "strokeWidth": 2.5}, "encoding": {"x": {"datum": 2098.28, "type": "quantitative"}, "x2": {"datum": 2110.76}, "y": {"datum": 68.98, "type": "quantitative"}}},
{"data": {"values": [{}]}, "mark": {"type": "rule", "stroke": "#1b1b1b", "strokeWidth": 2.5}, "encoding": {"x": {"datum": 2110.76, "type": "quantitative"}, "y": {"datum": 68.98, "type": "quantitative"}, "y2": {"datum": 32.98}}},
{"data": {"values": [{}]}, "mark": {"type": "rule", "stroke": "#1b1b1b", "strokeWidth": 2.5}, "encoding": {"x": {"datum": 2110.76, "type": "quantitative"}, "x2": {"datum": 2147.2}, "y": {"datum": 32.98, "type": "quantitative"}}},
{"data": {"values": [{}]}, "mark": {"type": "rule", "stroke": "#1b1b1b", "strokeWidth": 2.5}, "encoding": {"x": {"datum": 2098.14, "type": "quantitative"}, "y": {"datum": 47.92, "type": "quantitative"}, "y2": {"datum": 28.81}}},
{"data": {"values": [{}]}, "mark": {"type": "rule", "stroke": "#1b1b1b", "strokeWidth": 2.5}, "encoding": {"x": {"datum": 2098.14, "type": "quantitative"}, "x2": {"datum": 2110.76}, "y": {"datum": 28.81, "type": "quantitative"}}},
{"data": {"values": [{}]}, "mark": {"type": "rule", "stroke": "#1b1b1b", "strokeWidth": 2.5}, "encoding": {"x": {"datum": 2110.76, "type": "quantitative"}, "y": {"datum": 28.81, "type": "quantitative"}, "y2": {"datum": 15.1}}},
{"data": {"values": [{}]}, "mark": {"type": "rule", "stroke": "#1b1b1b", "strokeWidth": 2.5}, "encoding": {"x": {"datum": 2110.76, "type": "quantitative"}, "x2": {"datum": 2147.2}, "y": {"datum": 15.1, "type": "quantitative"}}},
{"data": {"name": "dots"}, "mark": {"type": "circle", "size": 140, "fill": "#1b1b1b", "stroke": "#ffffff", "strokeWidth": 2.5, "opacity": 1},
 "encoding": {"x": {"field": "year", "type": "quantitative"}, "y": {"field": "value", "type": "quantitative"}}},
{"data": {"values": [{}]}, "mark": {"type": "text", "align": "right", "baseline": "middle", "fontSize": 15.5, "fontWeight": "bold", "color": "#2b2523", "lineHeight": 24},
 "encoding": {"x": {"datum": 2028.69, "type": "quantitative"}, "y": {"datum": 149.8, "type": "quantitative"}, "text": {"value": ["Παγκόσμιες εκπομπές αερίων", "του θερμοκηπίου"]}}},
{"data": {"values": [{}]}, "mark": {"type": "text", "align": "left", "baseline": "middle", "fontSize": 16.5, "color": "#2b2523", "lineHeight": 23},
 "encoding": {"x": {"datum": 1996.56, "type": "quantitative"}, "y": {"datum": 135.59, "type": "quantitative"}, "text": {"value": ["σε ισοδύναμους γιγατόνους", "CO₂ ανά έτος"]}}},
{"data": {"values": [{}]}, "mark": {"type": "text", "align": "left", "baseline": "middle", "fontSize": 15.5, "fontWeight": "bold", "color": "#2b2523", "lineHeight": 24},
 "encoding": {"x": {"datum": 2058.39, "type": "quantitative"}, "y": {"datum": 149.8, "type": "quantitative"}, "text": {"value": ["Σενάρια για την αύξηση της θερμοκρασίας", "στην επιφάνεια της γης"]}}},
{"data": {"values": [{}]}, "mark": {"type": "text", "align": "right", "baseline": "middle", "fontSize": 21, "fontWeight": "bold", "color": "#2b2523"},
 "encoding": {"x": {"datum": 2101.15, "type": "quantitative"}, "y": {"datum": 143.18, "type": "quantitative"}, "text": {"value": "4,0"}}},
{"data": {"values": [{}]}, "mark": {"type": "text", "align": "left", "baseline": "middle", "fontSize": 19, "color": "#2b2523"},
 "encoding": {"x": {"datum": 2101.72, "type": "quantitative"}, "y": {"datum": 143.18, "type": "quantitative"}, "text": {"value": "C⁰"}}},
{"data": {"values": [{}]}, "mark": {"type": "text", "align": "left", "baseline": "middle", "fontSize": 18.5, "color": "#1c1c1c", "lineHeight": 26.7},
 "encoding": {"x": {"datum": 2111.76, "type": "quantitative"}, "y": {"datum": 143.82, "type": "quantitative"}, "text": {"value": ["Κόσμος με μεγάλη αύξηση", "πληθυσμού, βραδεία", "οικονομική ανάπτυξη και", "αργή τεχνολογική εξέλιξη."]}}},
{"data": {"values": [{}]}, "mark": {"type": "text", "align": "left", "baseline": "middle", "fontSize": 18.5, "color": "#1c1c1c", "lineHeight": 27},
 "encoding": {"x": {"datum": 2111.76, "type": "quantitative"}, "y": {"datum": 111.35, "type": "quantitative"}, "text": {"value": ["Ραγδαία οικονομική ανάπτυξη,", "ένας παγκόσμιος πληθυσμός", "που φτάνει στο ανώτατό του", "στο μέσον του αιώνα και", "ταχεία εισαγωγή", "αποδοτικότερων τεχνολογιών"]}}},
{"data": {"values": [{}]}, "mark": {"type": "text", "align": "left", "baseline": "middle", "fontSize": 18.5, "color": "#1c1c1c", "lineHeight": 28.5},
 "encoding": {"x": {"datum": 2111.76, "type": "quantitative"}, "y": {"datum": 66.77, "type": "quantitative"}, "text": {"value": ["Παγκόσμιος πληθυσμός που", "φτάνει στο ανώτατό του στα", "μέσα του αιώνα, με ραγδαίες", "αλλαγές προς μία οικονομία", "υπηρεσιών και πληροφορίας."]}}},
{"data": {"values": [{}]}, "mark": {"type": "text", "align": "left", "baseline": "middle", "fontSize": 18.5, "color": "#1c1c1c", "lineHeight": 27},
 "encoding": {"x": {"datum": 2111.76, "type": "quantitative"}, "y": {"datum": 25.63, "type": "quantitative"}, "text": {"value": ["Ατμοσφαιρικές συγκεντρώσεις", "σταθερές στα επίπεδα του '00."]}}}
]},
{"data": {"values": [{}]}, "mark": {"type": "rule", "opacity": 0},
 "encoding": {"y": {"datum": 0, "type": "quantitative", "scale": {"domain": [-1.0235, 4.698], "nice": false, "zero": false},
  "axis": {"orient": "right", "offset": -421, "values": [-0.5, 0, 0.5, 1, 1.5, 2, 2.5, 3, 3.5, 4], "ticks": true, "tickSize": 119, "tickWidth": 2, "tickColor": "#6e6e6e", "domain": false, "grid": false, "labelAlign": "right", "labelPadding": -9, "labelBaseline": "alphabetic", "labelOffset": -4, "labelFontSize": 21, "labelFontWeight": "bold", "labelColor": "#2b2523", "labelFlush": false, "labelOverlap": false, "title": null, "zindex": 2,
   "labelExpr": "datum.value == 4 ? '' : datum.value == 0 ? '0' : datum.value == -0.5 ? '-0,5' : replace(format(datum.value, '.1f'), '.', ',')"}}}}
]
},
{
"width": 1116, "height": 438,
"view": {"fill": "#f0e6d1", "stroke": null},
"layer": [
{"data": {"values": [{}]}, "mark": {"type": "rect", "fill": "#ffffff"},
 "encoding": {
  "x": {"datum": 952.6, "type": "quantitative", "scale": {"domain": [924.57, 2127.16], "nice": false, "zero": false},
   "axis": {"orient": "bottom", "offset": -45, "values": [1000, 1200, 1400, 1600, 1800, 2000], "format": "d", "ticks": false, "domain": false, "grid": false, "labelPadding": 19, "labelBaseline": "middle", "labelFontSize": 21, "labelFontWeight": "bold", "labelColor": "#2b2523", "labelFlush": false, "labelOverlap": false, "title": null, "zindex": 2}},
  "x2": {"datum": 2067.89},
  "y": {"datum": 1.436, "type": "quantitative", "scale": {"domain": [-1.321, 1.807], "nice": false, "zero": false},
   "axis": {"orient": "right", "offset": -71, "values": [-1, -0.5, 0, 0.5, 1], "ticks": false, "domain": false, "grid": false, "labelAlign": "right", "labelPadding": 0, "labelBaseline": "alphabetic", "labelOffset": -6, "labelFontSize": 20, "labelColor": "#2b2523", "labelFlush": false, "labelOverlap": false, "title": null, "zindex": 2,
    "labelExpr": "datum.value == 0 ? '0' : datum.value == -0.5 ? '-0,5' : datum.value == -1 ? '-1,0' : replace(format(datum.value, '.1f'), '.', ',')"}},
  "y2": {"datum": -1.243}}},
{"data": {"name": "recon"}, "mark": {"type": "area", "color": "#c4d1c1", "opacity": 0.55},
 "encoding": {"x": {"field": "year", "type": "quantitative"}, "y": {"field": "hi", "type": "quantitative"}, "y2": {"field": "lo"}}},
{"data": {"values": [{"v": 0.5}, {"v": -0.5}]}, "mark": {"type": "rule", "stroke": "#c2c2c2", "strokeWidth": 1.5},
 "encoding": {"x": {"datum": 954.74, "type": "quantitative"}, "x2": {"datum": 2053.9}, "y": {"field": "v", "type": "quantitative"}}},
{"data": {"values": [{}]}, "mark": {"type": "rule", "stroke": "#8a8a8a", "strokeWidth": 1.5},
 "encoding": {"x": {"datum": 954.74, "type": "quantitative"}, "x2": {"datum": 2053.9}, "y": {"datum": 0, "type": "quantitative"}}},
{"data": {"values": [{}]}, "mark": {"type": "rule", "stroke": "#c2c2c2", "strokeWidth": 1.5},
 "encoding": {"x": {"datum": 954.74, "type": "quantitative"}, "x2": {"datum": 1480.6}, "y": {"datum": 1, "type": "quantitative"}}},
{"data": {"values": [{}]}, "mark": {"type": "rule", "stroke": "#c2c2c2", "strokeWidth": 1.5},
 "encoding": {"x": {"datum": 1813.6, "type": "quantitative"}, "x2": {"datum": 2053.9}, "y": {"datum": 1, "type": "quantitative"}}},
{"data": {"name": "inst"}, "mark": {"type": "line", "stroke": "#231f20", "strokeWidth": 2.5},
 "encoding": {"x": {"field": "year", "type": "quantitative"}, "y": {"field": "t", "type": "quantitative"}}},
{"data": {"name": "recon"}, "mark": {"type": "line", "stroke": "#1ba8d5", "strokeWidth": 2.5},
 "encoding": {"x": {"field": "year", "type": "quantitative"}, "y": {"field": "temp", "type": "quantitative"}}},
{"data": {"name": "mean"}, "mark": {"type": "line", "stroke": "#e5174b", "strokeWidth": 2, "interpolate": "monotone"},
 "encoding": {"x": {"field": "year", "type": "quantitative"}, "y": {"field": "m", "type": "quantitative"}}},
{"data": {"values": [{}]}, "mark": {"type": "rule", "stroke": "#b7c2b7", "strokeWidth": 3.5},
 "encoding": {"x": {"datum": 952.6, "type": "quantitative"}, "x2": {"datum": 2053.9}, "y": {"datum": -1, "type": "quantitative"}}},
{"data": {"name": "cticks"}, "mark": {"type": "rule", "stroke": "#a8b2a8", "strokeWidth": 1.5},
 "encoding": {"x": {"field": "year", "type": "quantitative"}, "y": {"datum": -1, "type": "quantitative"}, "y2": {"datum": -0.93}}},
{"data": {"values": [{}]}, "mark": {"type": "text", "align": "left", "baseline": "middle", "fontSize": 27, "fontWeight": "bold", "color": "#2b2523"},
 "encoding": {"x": {"datum": 968.75, "type": "quantitative"}, "y": {"datum": 1.629, "type": "quantitative"}, "text": {"value": "... αλλά υπάρχει μεγαλύτερη σαφήνεια σε ό,τι αφορά τις τάσεις"}}},
{"data": {"values": [{}]}, "mark": {"type": "text", "align": "left", "baseline": "middle", "fontSize": 17.5, "fontWeight": "bold", "color": "#2b2523"},
 "encoding": {"x": {"datum": 968.75, "type": "quantitative"}, "y": {"datum": 1.336, "type": "quantitative"}, "text": {"value": "Θερμοκρασία βορείου ημισφαιρίου"}}},
{"data": {"values": [{}]}, "mark": {"type": "text", "align": "left", "baseline": "middle", "fontSize": 18.5, "color": "#2b2523"},
 "encoding": {"x": {"datum": 968.75, "type": "quantitative"}, "y": {"datum": 1.15, "type": "quantitative"}, "text": {"value": "Διαφορά από το 1961 μέχρι το 1990 (μέσος όρος σε C⁰)"}}},
{"data": {"values": [{}]}, "mark": {"type": "text", "align": "left", "baseline": "middle", "fontSize": 17.5, "fontWeight": "bold", "color": "#2b2523"},
 "encoding": {"x": {"datum": 968.75, "type": "quantitative"}, "y": {"datum": 0.843, "type": "quantitative"}, "text": {"value": "Πηγή"}}},
{"data": {"values": [{}]}, "mark": {"type": "text", "align": "left", "baseline": "middle", "fontSize": 18.5, "color": "#2b2523"},
 "encoding": {"x": {"datum": 1017.8, "type": "quantitative"}, "y": {"datum": 0.843, "type": "quantitative"}, "text": {"value": ": IPCC"}}},
{"data": {"values": [{}]}, "mark": {"type": "rule", "stroke": "#1ba8d5", "strokeWidth": 8, "strokeCap": "round"},
 "encoding": {"x": {"datum": 1493.5, "type": "quantitative"}, "x2": {"datum": 1570.0}, "y": {"datum": 1.25, "type": "quantitative"}}},
{"data": {"values": [{}]}, "mark": {"type": "rule", "stroke": "#e5174b", "strokeWidth": 8, "strokeCap": "round"},
 "encoding": {"x": {"datum": 1493.5, "type": "quantitative"}, "x2": {"datum": 1570.0}, "y": {"datum": 1.05, "type": "quantitative"}}},
{"data": {"values": [{}]}, "mark": {"type": "rule", "stroke": "#2a2627", "strokeWidth": 8, "strokeCap": "round"},
 "encoding": {"x": {"datum": 1493.5, "type": "quantitative"}, "x2": {"datum": 1570.0}, "y": {"datum": 0.85, "type": "quantitative"}}},
{"data": {"values": [{}]}, "mark": {"type": "rule", "stroke": "#cdd8cc", "strokeWidth": 8, "strokeCap": "round"},
 "encoding": {"x": {"datum": 1493.5, "type": "quantitative"}, "x2": {"datum": 1570.0}, "y": {"datum": 0.657, "type": "quantitative"}}},
{"data": {"values": [{}]}, "mark": {"type": "text", "align": "left", "baseline": "middle", "fontSize": 17, "color": "#2b2523", "lineHeight": 27.7},
 "encoding": {"x": {"datum": 1585.1, "type": "quantitative"}, "y": {"datum": 1.25, "type": "quantitative"}, "text": {"value": ["Αναθεωρημένα δεδομένα", "Μέσος όρος 40 ετών", "Καταγεγραμμένη θερμοκρασία", "Σφάλμα (95% ασφάλεια)"]}}}
]
}
]
}
